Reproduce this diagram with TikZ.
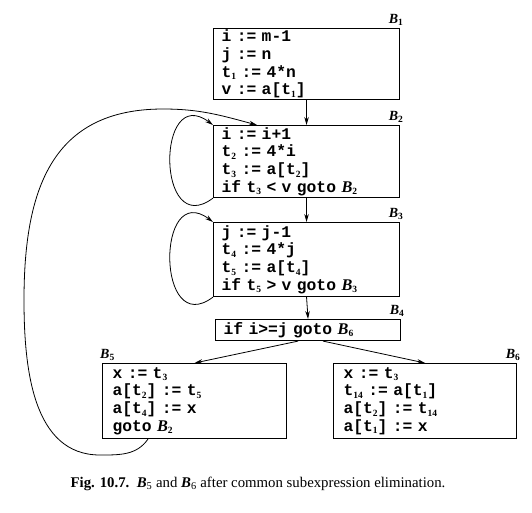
\documentclass[tikz,border=0pt]{standalone}
\usepackage{fontspec}
\setmainfont{Liberation Serif}
\newfontfamily\codefont{Liberation Mono}
\usetikzlibrary{arrows.meta}
\newcommand\subn[1]{\raisebox{-2.5pt}{\fontsize{9.5}{9.5}\selectfont\rmfamily\bfseries #1}}
\newcommand\Bk[1]{{\rmfamily\bfseries\itshape B}\subn{#1}}
\tikzset{
  blk/.style={draw, line width=1.1pt, anchor=north west, inner xsep=8pt, inner ysep=0pt,
    align=left, font={\codefont\bfseries\fontsize{16.3}{17.6}\selectfont}},
  lbl/.style={inner sep=0pt, font={\fontsize{14}{14}\selectfont}},
  arr/.style={line width=0.8pt, -{Stealth[length=8pt,width=4.5pt]}},
}
\begin{document}
\begin{tikzpicture}[x=1pt,y=1pt]
\useasboundingbox (0,0) rectangle (532,-512);
\node[blk, text width=170pt, minimum height=71pt] (b1) at (213,-28)
  {i := m-1\\ j := n\\ t\subn{1} := 4*n\\ v := a[t\subn{1}]};
\node[blk, text width=170pt, minimum height=72pt] (b2) at (213,-125)
  {i := i+1\\ t\subn{2} := 4*i\\ t\subn{3} := a[t\subn{2}]\\ if t\subn{3} < v goto \Bk{2}};
\node[blk, text width=170pt, minimum height=74pt] (b3) at (213,-222)
  {j := j-1\\ t\subn{4} := 4*j\\ t\subn{5} := a[t\subn{4}]\\ if t\subn{5} > v goto \Bk{3}};
\node[blk, text width=169pt, minimum height=21pt] (b4) at (215,-319)
  {if i>=j goto \Bk{6}};
\node[blk, text width=164pt, minimum height=75pt, inner xsep=10pt] (b5) at (102,-363)
  {x := t\subn{3}\\ a[t\subn{2}] := t\subn{5}\\ a[t\subn{4}] := x\\ goto \Bk{2}};
\node[blk, text width=163pt, minimum height=75pt, inner xsep=10pt] (b6) at (333,-363)
  {x := t\subn{3}\\ t\subn{14} := a[t\subn{1}]\\ a[t\subn{2}] := t\subn{14}\\ a[t\subn{1}] := x};
\node[lbl, anchor=south east] (l1) at ([xshift=3pt,yshift=2pt]b1.north east) {\Bk{1}};
\node[lbl, anchor=south east] (l2) at ([xshift=3pt,yshift=2pt]b2.north east) {\Bk{2}};
\node[lbl, anchor=south east] (l3) at ([xshift=3pt,yshift=2pt]b3.north east) {\Bk{3}};
\node[lbl, anchor=south east] (l4) at ([xshift=3pt,yshift=2pt]b4.north east) {\Bk{4}};
\node[lbl, anchor=south west] (l5) at ([xshift=-2pt,yshift=2pt]b5.north west) {\Bk{5}};
\node[lbl, anchor=south east] (l6) at ([xshift=3pt,yshift=2pt]b6.north east) {\Bk{6}};
\draw[arr] (b1.south) -- (b2.north);
\draw[arr] (b2.south) -- (b3.north);
\draw[arr] (b3.south) -- (b4.north);
\draw[arr] ([xshift=-10pt]b4.south) -- (b5.north);
\draw[arr] ([xshift=15pt]b4.south) -- (b6.north);
\draw[arr] (b2.south west) .. controls +(-57,-43) and +(-57,43) .. (b2.north west);
\draw[arr] (b3.south west) .. controls +(-57,-43) and +(-57,43) .. (b3.north west);
\draw[arr] ([xshift=46pt]b5.south west) to[out=235,in=0] (100,-455)
  to[out=180,in=270] (24,-300) to[out=90,in=180,looseness=1.2] (163,-109)
  to[out=0,in=165] ([xshift=44pt]b2.north west);
\node[font={\fontsize{14.8}{16}\selectfont}] (cap) at (258,-484)
  {\textbf{Fig. 10.7.}\enspace \textbf{\textit{B}}\textsubscript{5} and \textbf{\textit{B}}\textsubscript{6} after common subexpression elimination.};
\end{tikzpicture}
\end{document}
